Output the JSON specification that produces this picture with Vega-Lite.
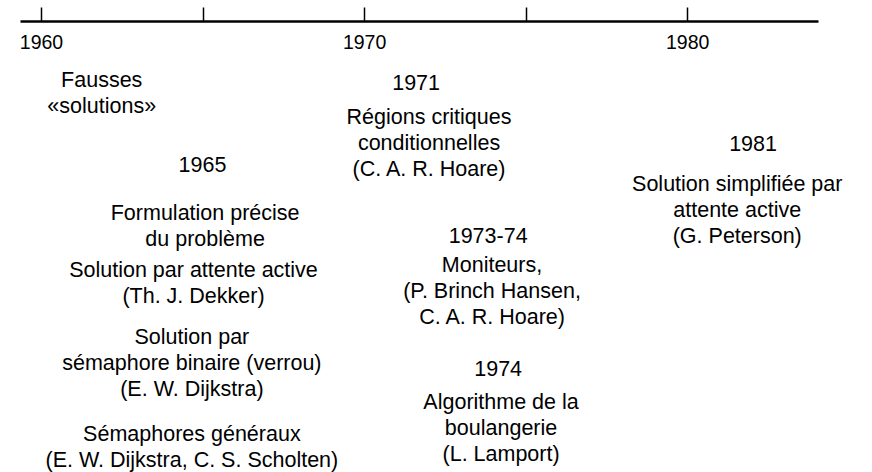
{
  "$schema": "https://vega.github.io/schema/vega-lite/v6.json",
  "width": 798,
  "height": 451,
  "autosize": {"type": "none"},
  "padding": {"left": 20, "top": 21, "right": 54, "bottom": 0},
  "background": "white",
  "config": {"view": {"stroke": null}, "font": "Liberation Sans"},
  "data": {
    "values": [
      {"year": 1961.88, "pos": 60, "label": "Fausses\n«solutions»"},
      {"year": 1965.0, "pos": 145, "label": "1965"},
      {"year": 1965.08, "pos": 193, "label": "Formulation précise\ndu problème"},
      {"year": 1964.72, "pos": 250, "label": "Solution par attente active\n(Th. J. Dekker)"},
      {"year": 1964.67, "pos": 317, "label": "Solution par\nsémaphore binaire (verrou)\n(E. W. Dijkstra)"},
      {"year": 1964.67, "pos": 414, "label": "Sémaphores généraux\n(E. W. Dijkstra, C. S. Scholten)"},
      {"year": 1971.61, "pos": 63, "label": "1971"},
      {"year": 1972.01, "pos": 97, "label": "Régions critiques\nconditionnelles\n(C. A. R. Hoare)"},
      {"year": 1973.84, "pos": 216, "label": "1973-74"},
      {"year": 1973.96, "pos": 245, "label": "Moniteurs,\n(P. Brinch Hansen,\nC. A. R. Hoare)"},
      {"year": 1974.15, "pos": 349, "label": "1974"},
      {"year": 1974.24, "pos": 382, "label": "Algorithme de la\nboulangerie\n(L. Lamport)"},
      {"year": 1982.04, "pos": 124, "label": "1981"},
      {"year": 1981.55, "pos": 164, "label": "Solution simplifiée par\nattente active\n(G. Peterson)"}
    ]
  },
  "mark": {
    "type": "text",
    "fontSize": 21.5,
    "lineHeight": 26,
    "lineBreak": "\n",
    "align": "center",
    "baseline": "middle",
    "font": "Liberation Sans",
    "fill": "black"
  },
  "encoding": {
    "x": {
      "field": "year",
      "type": "quantitative",
      "scale": {"domain": [1959.35, 1984.05], "nice": false, "zero": false},
      "axis": {
        "orient": "top",
        "values": [1960, 1965, 1970, 1975, 1980],
        "format": "d",
        "labelExpr": "datum.value % 10 === 0 ? datum.label : ''",
        "grid": false,
        "title": null,
        "domainColor": "black",
        "domainWidth": 2.5,
        "tickColor": "black",
        "tickWidth": 1.5,
        "tickSize": 14,
        "labelFontSize": 19.5,
        "labelColor": "black",
        "labelFont": "Liberation Sans",
        "labelBaseline": "top",
        "labelPadding": -26.5,
        "labelFlush": false,
        "labelOverlap": false
      }
    },
    "y": {
      "field": "pos",
      "type": "quantitative",
      "scale": {"domain": [0, 451], "reverse": true},
      "axis": null
    },
    "text": {"field": "label"}
  }
}
